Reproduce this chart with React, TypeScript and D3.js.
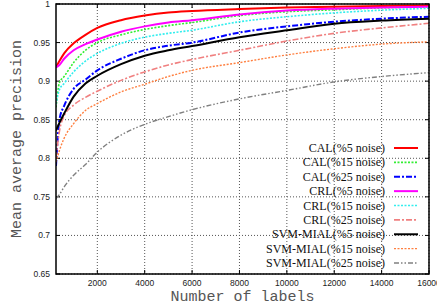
import React from "react";
import * as d3 from "d3";

const labels = [256, 400, 600, 1000, 1500, 2000, 3000, 4000, 5000, 6000, 8000, 10000, 12000, 14000, 16000];

const cal5 = [0.918, 0.926, 0.936, 0.949, 0.960, 0.969, 0.979, 0.985, 0.989, 0.991, 0.9935, 0.9955, 0.9965, 0.9973, 0.998];
const cal15 = [0.866, 0.898, 0.906, 0.924, 0.940, 0.950, 0.960, 0.967, 0.972, 0.976, 0.985, 0.990, 0.9925, 0.995, 0.9965];
const cal25 = [0.79, 0.85, 0.868, 0.89, 0.902, 0.914, 0.929, 0.940, 0.946, 0.950, 0.963, 0.971, 0.977, 0.981, 0.9835];
const crl5 = [0.918, 0.921, 0.929, 0.940, 0.948, 0.954, 0.964, 0.971, 0.976, 0.979, 0.9865, 0.9915, 0.994, 0.9955, 0.9965];
const crl15 = [0.870, 0.889, 0.897, 0.912, 0.926, 0.936, 0.949, 0.957, 0.962, 0.966, 0.977, 0.9835, 0.9885, 0.992, 0.9945];
const crl25 = [0.80, 0.835, 0.855, 0.869, 0.879, 0.887, 0.901, 0.912, 0.921, 0.928, 0.940, 0.952, 0.962, 0.969, 0.975];
const svm5 = [0.836, 0.846, 0.858, 0.880, 0.897, 0.907, 0.922, 0.933, 0.940, 0.9455, 0.957, 0.966, 0.9745, 0.9785, 0.981];
const svm15 = [0.795, 0.81, 0.826, 0.845, 0.862, 0.871, 0.886, 0.896, 0.906, 0.914, 0.924, 0.934, 0.942, 0.948, 0.951];
const svm25 = [0.748, 0.753, 0.763, 0.778, 0.792, 0.808, 0.830, 0.844, 0.854, 0.863, 0.877, 0.888, 0.899, 0.906, 0.911];

const seriesNames = [
  "CAL(%5 noise)", "CAL(%15 noise)", "CAL(%25 noise)",
  "CRL(%5 noise)", "CRL(%15 noise)", "CRL(%25 noise)",
  "SVM-MIAL(%5 noise)", "SVM-MIAL(%15 noise)", "SVM-MIAL(%25 noise)",
];
const seriesValues = [cal5, cal15, cal25, crl5, crl15, crl25, svm5, svm15, svm25];

const xTicks = [2000, 4000, 6000, 8000, 10000, 12000, 14000, 16000];
const yTicks = [0.65, 0.7, 0.75, 0.8, 0.85, 0.9, 0.95, 1];

const styles = [
  { color: "#ff0000", width: 2, dash: "" },
  { color: "#33ee33", width: 1.6, dash: "2 1.5" },
  { color: "#0000ff", width: 2, dash: "6 2 2 2" },
  { color: "#ff00ff", width: 2, dash: "" },
  { color: "#33eeee", width: 1.6, dash: "2 1.5" },
  { color: "#f08080", width: 1.6, dash: "6 2 2 2" },
  { color: "#000000", width: 2, dash: "" },
  { color: "#ff7f3f", width: 1.4, dash: "2 1.5" },
  { color: "#808080", width: 1.4, dash: "5 2 1.5 2 1.5 2" },
];

export default function App() {
  const W = 437, H = 308;
  const L = 56, R = 429, T = 4, B = 274;
  const x = d3.scaleLinear().domain([256, 16000]).range([L, R]);
  const y = d3.scaleLinear().domain([0.65, 1]).range([B, T]);
  const line = d3.line<number>()
    .x((_, i) => x(labels[i]))
    .y((d) => y(d))
    .curve(d3.curveMonotoneX);
  const fmt = d3.format("~g");
  const legendY0 = 148;
  const legendStep = 14.38;

  return (
    <svg width={W} height={H} style={{ position: "absolute", left: 0, top: 0, background: "#fff" }}>
      <defs>
        <clipPath id="plot">
          <rect x={L} y={T} width={R - L} height={B - T} />
        </clipPath>
      </defs>
      {xTicks.map((t) => (
        <line key={"gx" + t} x1={x(t)} x2={x(t)} y1={T} y2={B} stroke="#555" strokeWidth={1} strokeDasharray="1 2" />
      ))}
      {yTicks.map((t) => (
        <line key={"gy" + t} x1={L} x2={R} y1={y(t)} y2={y(t)} stroke="#555" strokeWidth={1} strokeDasharray="1 2" />
      ))}
      {xTicks.map((t) => (
        <g key={"tx" + t}>
          <line x1={x(t)} x2={x(t)} y1={B} y2={B - 4} stroke="#000" />
          <line x1={x(t)} x2={x(t)} y1={T} y2={T + 4} stroke="#000" />
        </g>
      ))}
      {yTicks.map((t) => (
        <g key={"ty" + t}>
          <line x1={L} x2={L + 4} y1={y(t)} y2={y(t)} stroke="#000" />
          <line x1={R} x2={R - 4} y1={y(t)} y2={y(t)} stroke="#000" />
        </g>
      ))}
      <g clipPath="url(#plot)">
        {seriesValues.map((vals, i) => (
          <path key={"s" + i} d={line(vals) || ""} fill="none" stroke={styles[i].color}
            strokeWidth={styles[i].width} strokeDasharray={styles[i].dash} strokeLinejoin="round" />
        ))}
      </g>
      {seriesNames.map((name, i) => {
        const cy = legendY0 + i * legendStep;
        return (
          <g key={"lg" + i}>
            <text x={385} y={cy + 4} textAnchor="end" fontFamily="'Liberation Serif', 'Times New Roman', serif" fontSize={12} fill="#111">{name}</text>
            <line x1={394} x2={418} y1={cy} y2={cy} stroke={styles[i].color} strokeWidth={styles[i].width} strokeDasharray={styles[i].dash} />
          </g>
        );
      })}
      <rect x={L} y={T} width={R - L} height={B - T} fill="none" stroke="#000" strokeWidth={1.5} />
      {xTicks.map((t) => (
        <text key={"lx" + t} x={x(t)} y={286} textAnchor="middle" fontFamily="'Liberation Sans', Arial, sans-serif" fontSize={8.5} fill="#222">{t}</text>
      ))}
      {yTicks.map((t) => (
        <text key={"ly" + t} x={50} y={y(t) + 3} textAnchor="end" fontFamily="'Liberation Sans', Arial, sans-serif" fontSize={8.5} fill="#222">{fmt(t)}</text>
      ))}
      <text x={(L + R) / 2} y={301} textAnchor="middle" fontFamily="'Liberation Mono', 'DejaVu Sans Mono', monospace" fontSize={15} fill="#555">Number of labels</text>
      <text transform={`translate(21, ${(T + B) / 2}) rotate(-90)`} textAnchor="middle" fontFamily="'Liberation Mono', 'DejaVu Sans Mono', monospace" fontSize={15} fill="#555">Mean average precision</text>
    </svg>
  );
}
